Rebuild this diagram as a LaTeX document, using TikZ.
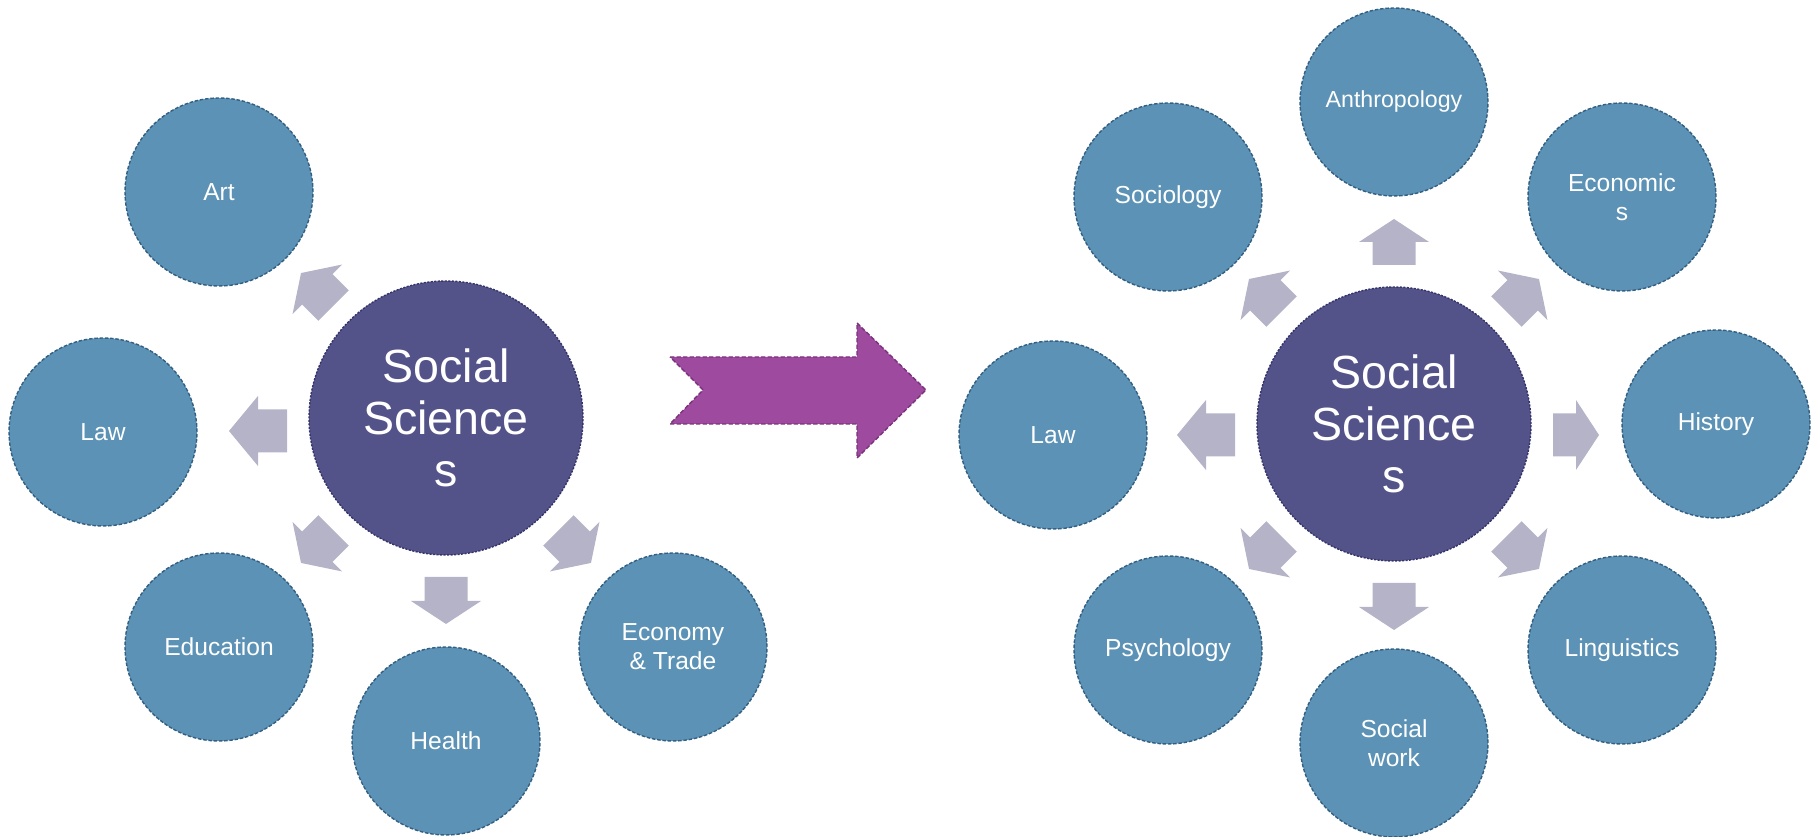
\documentclass[tikz,border=0pt]{standalone}
\usepackage{fontspec}
\setmainfont{Liberation Sans}
\definecolor{hubfill}{HTML}{535389}
\definecolor{hubline}{HTML}{34346A}
\definecolor{topicfill}{HTML}{5B92B5}
\definecolor{topicline}{HTML}{335F82}
\definecolor{arrowgray}{HTML}{B4B3C7}
\definecolor{bigarrowfill}{HTML}{9E4B9F}
\definecolor{bigarrowline}{HTML}{7B317D}

\begin{document}
\begin{tikzpicture}
  [x=0.02cm,y=0.02cm,
   hub/.style={circle,draw=hubline,fill=hubfill,dash pattern=on 1.2pt off 0.8pt,line width=0.8pt,
     minimum size=5.48cm,inner sep=0pt,text=white,align=center,font=\fontsize{26.5}{29.5}\selectfont},
   topic/.style={circle,draw=topicline,fill=topicfill,dash pattern=on 2pt off 1pt,line width=0.8pt,
     minimum size=3.76cm,inner sep=0pt,text=white,align=center,font=\fontsize{14}{16.5}\selectfont},
   blockarrow/.style={fill=arrowgray},
   bigarrow/.style={fill=bigarrowfill,draw=bigarrowline,dash pattern=on 2.5pt off 1.2pt,line width=0.8pt}]
  \useasboundingbox (0,0) rectangle (1820,837);

  % left cluster
  \node[hub] (hubA) at (446,419) {Social\\Science\\s};
  \node[topic] (artA) at (219,645) {Art};
  \node[topic] (lawA) at (103,405) {Law};
  \node[topic] (eduA) at (219,190) {Education};
  \node[topic] (healthA) at (446,96) {Health};
  \node[topic] (econA) at (673,190) {Economy\\\& Trade};

  \foreach \ang/\hb/\tp/\dy in {135/182/205/0, 180/188/217/-13, 225/182/205/0, 270/183/206/0, 315/182/205/0}
    \fill[blockarrow,shift={(hubA.center)},shift={(0,\dy)},rotate=\ang]
      (159,-21.5) -- (\hb,-21.5) -- (\hb,-35) -- (\tp,0) -- (\hb,35) -- (\hb,21.5) -- (159,21.5) -- cycle;

  % big arrow between the clusters
  \draw[bigarrow] (670,480) -- (857,480) -- (857,514) -- (926,447) -- (857,379) -- (857,413)
    -- (670,413) -- (703,447) -- cycle;

  % right cluster
  \node[hub] (hubB) at (1394,413) {Social\\Science\\s};
  \node[topic,font=\fontsize{13.2}{16.5}\selectfont] (anthroB) at (1394,735) {Anthropology};
  \node[topic] (socioB) at (1168,640) {Sociology};
  \node[topic] (econB) at (1622,640) {Economic\\s};
  \node[topic] (lawB) at (1053,402) {Law};
  \node[topic] (histB) at (1716,413) {History};
  \node[topic] (psychB) at (1168,187) {Psychology};
  \node[topic] (workB) at (1394,94) {Social\\work};
  \node[topic] (lingB) at (1622,187) {Linguistics};

  \foreach \ang/\hb/\tp/\dy in {90/182/205/0, 45/182/205/0, 135/182/205/0, 180/188/217/-11,
      0/182/205/-11, 225/182/205/0, 270/183/206/0, 315/182/205/0}
    \fill[blockarrow,shift={(hubB.center)},shift={(0,\dy)},rotate=\ang]
      (159,-21.5) -- (\hb,-21.5) -- (\hb,-35) -- (\tp,0) -- (\hb,35) -- (\hb,21.5) -- (159,21.5) -- cycle;
\end{tikzpicture}
\end{document}
